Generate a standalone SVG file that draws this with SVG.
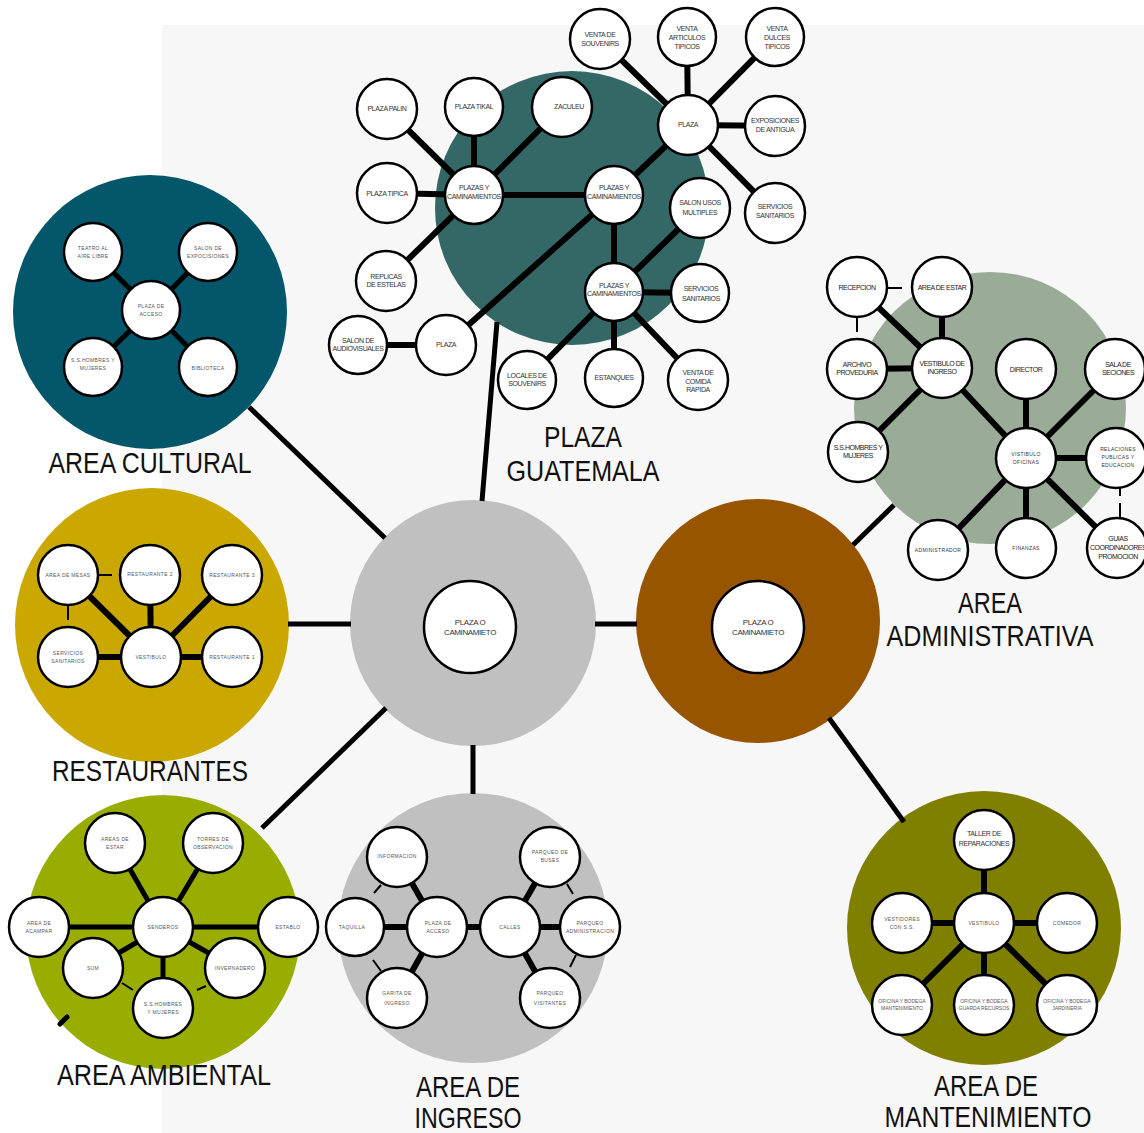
<svg xmlns="http://www.w3.org/2000/svg" width="1144" height="1133" viewBox="0 0 1144 1133">
<style>
.n circle{fill:#fff;stroke:#000;stroke-width:2.5}
.t{font-family:"Liberation Sans",Arial,sans-serif;font-size:7px;fill:#333;text-anchor:middle;letter-spacing:-0.4px}
.s{font-family:"Liberation Sans",Arial,sans-serif;font-size:5px;fill:#555;text-anchor:middle;letter-spacing:0.35px}
.a{font-family:"Liberation Sans",Arial,sans-serif;font-size:7px;fill:#222;text-anchor:middle;letter-spacing:-0.5px}
.ttl{font-family:"Liberation Sans",Arial,sans-serif;font-size:30px;fill:#111;text-anchor:middle}
.c line{stroke:#000;stroke-width:6}
.c .w5{stroke-width:5}
.c .th{stroke-width:2}
.c .rc{stroke-linecap:round}
</style>
<rect width="1144" height="1133" fill="#fff"/>
<rect x="162" y="25" width="982" height="1108" fill="#f7f7f7"/>

<g id="area-circles">
<circle id="area-cultural" cx="150" cy="312" r="137" fill="#04566a"/>
<circle id="plaza-guatemala" cx="572" cy="208" r="137" fill="#346866"/>
<circle id="restaurantes" cx="152" cy="625" r="137" fill="#caa800"/>
<circle id="center-gray" cx="473" cy="623" r="123" fill="#c0c0c0"/>
<circle id="center-brown" cx="758" cy="621" r="122" fill="#985500"/>
<circle id="area-administrativa" cx="990" cy="408" r="136" fill="#9aab98"/>
<circle id="area-ambiental" cx="163" cy="932" r="137" fill="#99ac00"/>
<circle id="area-ingreso" cx="473" cy="928" r="135" fill="#c0c0c0"/>
<circle id="area-mantenimiento" cx="984" cy="928" r="137" fill="#808000"/>
</g>

<g id="titles">
<text class="ttl" x="150" y="473" textLength="203" lengthAdjust="spacingAndGlyphs">AREA CULTURAL</text>
<text class="ttl" x="583" y="447" textLength="78" lengthAdjust="spacingAndGlyphs">PLAZA</text>
<text class="ttl" x="583" y="481" textLength="153" lengthAdjust="spacingAndGlyphs">GUATEMALA</text>
<text class="ttl" x="150" y="781" textLength="196" lengthAdjust="spacingAndGlyphs">RESTAURANTES</text>
<text class="ttl" x="164" y="1085" textLength="214" lengthAdjust="spacingAndGlyphs">AREA AMBIENTAL</text>
<text class="ttl" x="468" y="1097" textLength="104" lengthAdjust="spacingAndGlyphs">AREA DE</text>
<text class="ttl" x="468" y="1128" textLength="107" lengthAdjust="spacingAndGlyphs">INGRESO</text>
<text class="ttl" x="990" y="613" textLength="64" lengthAdjust="spacingAndGlyphs">AREA</text>
<text class="ttl" x="990" y="646" textLength="207" lengthAdjust="spacingAndGlyphs">ADMINISTRATIVA</text>
<text class="ttl" x="986" y="1096" textLength="104" lengthAdjust="spacingAndGlyphs">AREA DE</text>
<text class="ttl" x="988" y="1127" textLength="207" lengthAdjust="spacingAndGlyphs">MANTENIMIENTO</text>
</g>

<g id="connectors" class="c">
<line class="w5" x1="249" y1="407" x2="385" y2="538"/>
<line class="w5" x1="497" y1="322" x2="482" y2="501"/>
<line class="w5" x1="288" y1="624" x2="351" y2="624"/>
<line class="w5" x1="262" y1="828" x2="386" y2="708"/>
<line class="w5 rc" x1="60" y1="1024" x2="67" y2="1017"/>
<line class="w5" x1="473" y1="745" x2="473" y2="794"/>
<line class="w5" x1="595" y1="624" x2="637" y2="624"/>
<line class="w5" x1="853" y1="545" x2="894" y2="505"/>
<line class="w5" x1="829" y1="718" x2="904" y2="822"/>
<line x1="688" y1="125" x2="600" y2="39"/>
<line x1="688" y1="125" x2="687" y2="37"/>
<line x1="688" y1="125" x2="775" y2="37"/>
<line x1="688" y1="125" x2="775" y2="126"/>
<line x1="688" y1="125" x2="775" y2="213"/>
<line x1="688" y1="125" x2="614" y2="195"/>
<line x1="474" y1="195" x2="387" y2="109"/>
<line x1="474" y1="195" x2="474" y2="107"/>
<line x1="474" y1="195" x2="562" y2="107"/>
<line x1="474" y1="195" x2="387" y2="193"/>
<line x1="474" y1="195" x2="386" y2="281"/>
<line x1="474" y1="195" x2="614" y2="195"/>
<line x1="614" y1="195" x2="614" y2="292"/>
<line x1="614" y1="195" x2="446" y2="345"/>
<line x1="614" y1="292" x2="700" y2="208"/>
<line x1="614" y1="292" x2="700" y2="293"/>
<line x1="614" y1="292" x2="527" y2="380"/>
<line x1="614" y1="292" x2="614" y2="378"/>
<line x1="614" y1="292" x2="698" y2="380"/>
<line x1="358" y1="345" x2="446" y2="345"/>
<line class="w5" x1="151" y1="310" x2="93" y2="252"/>
<line class="w5" x1="151" y1="310" x2="208" y2="252"/>
<line class="w5" x1="151" y1="310" x2="93" y2="367"/>
<line class="w5" x1="151" y1="310" x2="208" y2="367"/>
<line x1="151" y1="657" x2="68" y2="575"/>
<line x1="151" y1="657" x2="150" y2="575"/>
<line x1="151" y1="657" x2="232" y2="575"/>
<line x1="151" y1="657" x2="68" y2="657"/>
<line x1="151" y1="657" x2="232" y2="657"/>
<line class="th" x1="98" y1="575" x2="112" y2="575"/>
<line class="th" x1="68" y1="606" x2="68" y2="620"/>
<line class="w5" x1="163" y1="927" x2="115" y2="843"/>
<line class="w5" x1="163" y1="927" x2="213" y2="843"/>
<line class="w5" x1="163" y1="927" x2="39" y2="927"/>
<line class="w5" x1="163" y1="927" x2="288" y2="927"/>
<line class="w5" x1="163" y1="927" x2="93" y2="968"/>
<line class="w5" x1="163" y1="927" x2="235" y2="968"/>
<line class="w5" x1="163" y1="927" x2="163" y2="1008"/>
<line class="th" x1="122" y1="983" x2="133" y2="990"/>
<line class="th" x1="197" y1="990" x2="206" y2="986"/>
<line x1="437" y1="927" x2="397" y2="857"/>
<line x1="437" y1="927" x2="355" y2="927"/>
<line x1="437" y1="927" x2="397" y2="998"/>
<line x1="437" y1="927" x2="510" y2="927"/>
<line x1="510" y1="927" x2="550" y2="857"/>
<line x1="510" y1="927" x2="590" y2="927"/>
<line x1="510" y1="927" x2="550" y2="998"/>
<line class="th" x1="374" y1="893" x2="381" y2="885"/>
<line class="th" x1="373" y1="960" x2="381" y2="971"/>
<line class="th" x1="567" y1="884" x2="573" y2="894"/>
<line class="th" x1="576" y1="955" x2="570" y2="967"/>
<line x1="942" y1="368" x2="857" y2="287"/>
<line x1="942" y1="368" x2="942" y2="287"/>
<line x1="942" y1="368" x2="857" y2="369"/>
<line x1="942" y1="368" x2="858" y2="452"/>
<line x1="942" y1="368" x2="1026" y2="458"/>
<line x1="1026" y1="458" x2="1026" y2="369"/>
<line x1="1026" y1="458" x2="1115" y2="369"/>
<line x1="1026" y1="458" x2="1116" y2="458"/>
<line x1="1026" y1="458" x2="938" y2="550"/>
<line x1="1026" y1="458" x2="1026" y2="548"/>
<line x1="1026" y1="458" x2="1117" y2="548"/>
<line class="th" x1="888" y1="288" x2="902" y2="288"/>
<line class="th" x1="857" y1="318" x2="857" y2="332"/>
<line class="th" x1="1120" y1="488" x2="1120" y2="518" stroke-dasharray="8 7 15"/>
<line x1="984" y1="923" x2="984" y2="840"/>
<line x1="984" y1="923" x2="902" y2="923"/>
<line x1="984" y1="923" x2="1067" y2="923"/>
<line x1="984" y1="923" x2="902" y2="1005"/>
<line x1="984" y1="923" x2="984" y2="1005"/>
<line x1="984" y1="923" x2="1067" y2="1005"/>
</g>

<g id="center-plaza-gray" class="n"><circle cx="470" cy="627" r="46"/><text class="t" x="470" y="625" style="font-size:8px"><tspan x="470">PLAZA O</tspan><tspan x="470" dy="10">CAMINAMIETO</tspan></text></g>
<g id="center-plaza-brown" class="n"><circle cx="758" cy="627" r="46"/><text class="t" x="758" y="625" style="font-size:8px"><tspan x="758">PLAZA O</tspan><tspan x="758" dy="10">CAMINAMIETO</tspan></text></g>

<g id="pg-venta-souvenirs" class="n"><circle cx="600" cy="39" r="30"/><text class="t" x="600" y="37"><tspan x="600">VENTA DE</tspan><tspan x="600" dy="9">SOUVENIRS</tspan></text></g>
<g id="pg-venta-articulos" class="n"><circle cx="687" cy="37" r="29"/><text class="t" x="687" y="31"><tspan x="687">VENTA</tspan><tspan x="687" dy="9">ARTICULOS</tspan><tspan x="687" dy="9">TIPICOS</tspan></text></g>
<g id="pg-venta-dulces" class="n"><circle cx="775" cy="37" r="29"/><text class="t" x="777" y="31"><tspan x="777">VENTA</tspan><tspan x="777" dy="9">DULCES</tspan><tspan x="777" dy="9">TIPICOS</tspan></text></g>
<g id="pg-plaza-top" class="n"><circle cx="688" cy="125" r="30"/><text class="t" x="688" y="127">PLAZA</text></g>
<g id="pg-exposiciones" class="n"><circle cx="775" cy="126" r="30"/><text class="t" x="775" y="123"><tspan x="775">EXPOSICIONES</tspan><tspan x="775" dy="9">DE ANTIGUA</tspan></text></g>
<g id="pg-servicios-1" class="n"><circle cx="775" cy="213" r="30"/><text class="t" x="775" y="209"><tspan x="775">SERVICIOS</tspan><tspan x="775" dy="9">SANITARIOS</tspan></text></g>
<g id="pg-plaza-palin" class="n"><circle cx="387" cy="109" r="30"/><text class="t" x="387" y="111">PLAZA PALIN</text></g>
<g id="pg-plaza-tikal" class="n"><circle cx="474" cy="107" r="29"/><text class="t" x="474" y="109">PLAZA TIKAL</text></g>
<g id="pg-zaculeu" class="n"><circle cx="562" cy="107" r="30"/><text class="t" x="569" y="109">ZACULEU</text></g>
<g id="pg-plaza-tipica" class="n"><circle cx="387" cy="193" r="30"/><text class="t" x="387" y="196">PLAZA TIPICA</text></g>
<g id="pg-plazas-left" class="n"><circle cx="474" cy="195" r="29"/><text class="t" x="474" y="190"><tspan x="474">PLAZAS Y</tspan><tspan x="474" dy="9">CAMINAMIENTOS</tspan></text></g>
<g id="pg-plazas-mid" class="n"><circle cx="614" cy="195" r="29"/><text class="t" x="614" y="190"><tspan x="614">PLAZAS Y</tspan><tspan x="614" dy="9">CAMINAMIENTOS</tspan></text></g>
<g id="pg-salon-usos" class="n"><circle cx="700" cy="208" r="30"/><text class="t" x="700" y="205"><tspan x="700">SALON USOS</tspan><tspan x="700" dy="10">MULTIPLES</tspan></text></g>
<g id="pg-replicas" class="n"><circle cx="386" cy="281" r="30"/><text class="t" x="386" y="279"><tspan x="386">REPLICAS</tspan><tspan x="386" dy="8">DE ESTELAS</tspan></text></g>
<g id="pg-plazas-low" class="n"><circle cx="614" cy="292" r="29"/><text class="t" x="614" y="288"><tspan x="614">PLAZAS Y</tspan><tspan x="614" dy="8">CAMINAMIENTOS</tspan></text></g>
<g id="pg-servicios-2" class="n"><circle cx="700" cy="293" r="29"/><text class="t" x="701" y="291"><tspan x="701">SERVICIOS</tspan><tspan x="701" dy="10">SANITARIOS</tspan></text></g>
<g id="pg-salon-audiovisuales" class="n"><circle cx="358" cy="345" r="29"/><text class="t" x="358" y="343"><tspan x="358">SALON DE</tspan><tspan x="358" dy="8">AUDIOVISUALES</tspan></text></g>
<g id="pg-plaza-bottom" class="n"><circle cx="446" cy="345" r="30"/><text class="t" x="446" y="347">PLAZA</text></g>
<g id="pg-locales" class="n"><circle cx="527" cy="380" r="29"/><text class="t" x="527" y="378"><tspan x="527">LOCALES DE</tspan><tspan x="527" dy="8">SOUVENIRS</tspan></text></g>
<g id="pg-estanques" class="n"><circle cx="614" cy="378" r="29"/><text class="t" x="614" y="380">ESTANQUES</text></g>
<g id="pg-venta-comida" class="n"><circle cx="698" cy="380" r="30"/><text class="t" x="698" y="375"><tspan x="698">VENTA DE</tspan><tspan x="698" dy="9">COMIDA</tspan><tspan x="698" dy="8">RAPIDA</tspan></text></g>

<g id="ac-teatro" class="n"><circle cx="93" cy="252" r="29"/><text class="s" x="93" y="250"><tspan x="93">TEATRO AL</tspan><tspan x="93" dy="8">AIRE LIBRE</tspan></text></g>
<g id="ac-salon" class="n"><circle cx="208" cy="252" r="29"/><text class="s" x="208" y="250"><tspan x="208">SALON DE</tspan><tspan x="208" dy="8">EXPOCISIONES</tspan></text></g>
<g id="ac-plaza" class="n"><circle cx="151" cy="310" r="29"/><text class="s" x="151" y="308"><tspan x="151">PLAZA DE</tspan><tspan x="151" dy="8">ACCESO</tspan></text></g>
<g id="ac-ss" class="n"><circle cx="93" cy="367" r="29"/><text class="s" x="93" y="362"><tspan x="93">S.S.HOMBRES Y</tspan><tspan x="93" dy="8">MUJERES</tspan></text></g>
<g id="ac-biblioteca" class="n"><circle cx="208" cy="367" r="29"/><text class="s" x="208" y="370">BIBLIOTECA</text></g>

<g id="r-mesas" class="n"><circle cx="68" cy="575" r="30"/><text class="s" x="68" y="577">AREA DE MESAS</text></g>
<g id="r-rest2" class="n"><circle cx="150" cy="575" r="30"/><text class="s" x="150" y="576">RESTAURANTE 2</text></g>
<g id="r-rest3" class="n"><circle cx="232" cy="575" r="30"/><text class="s" x="232" y="577">RESTAURANTE 3</text></g>
<g id="r-servicios" class="n"><circle cx="68" cy="657" r="30"/><text class="s" x="68" y="655"><tspan x="68">SERVICIOS</tspan><tspan x="68" dy="8">SANITARIOS</tspan></text></g>
<g id="r-vestibulo" class="n"><circle cx="151" cy="657" r="30"/><text class="s" x="151" y="659">VESTIBULO</text></g>
<g id="r-rest1" class="n"><circle cx="232" cy="657" r="30"/><text class="s" x="232" y="659">RESTAURANTE 1</text></g>

<g id="aa-areas-estar" class="n"><circle cx="115" cy="843" r="30"/><text class="s" x="115" y="841"><tspan x="115">AREAS DE</tspan><tspan x="115" dy="8">ESTAR</tspan></text></g>
<g id="aa-torres" class="n"><circle cx="213" cy="843" r="30"/><text class="s" x="213" y="841"><tspan x="213">TORRES DE</tspan><tspan x="213" dy="8">OBSERVACION</tspan></text></g>
<g id="aa-acampar" class="n"><circle cx="39" cy="927" r="30"/><text class="s" x="39" y="925"><tspan x="39">AREA DE</tspan><tspan x="39" dy="8">ACAMPAR</tspan></text></g>
<g id="aa-senderos" class="n"><circle cx="163" cy="927" r="30"/><text class="s" x="163" y="929">SENDEROS</text></g>
<g id="aa-establo" class="n"><circle cx="288" cy="927" r="30"/><text class="s" x="288" y="929">ESTABLO</text></g>
<g id="aa-sum" class="n"><circle cx="93" cy="968" r="30"/><text class="s" x="93" y="970">SUM</text></g>
<g id="aa-invernadero" class="n"><circle cx="235" cy="968" r="30"/><text class="s" x="235" y="970">INVERNADERO</text></g>
<g id="aa-ss" class="n"><circle cx="163" cy="1008" r="30"/><text class="s" x="163" y="1006"><tspan x="163">S.S.HOMBRES</tspan><tspan x="163" dy="8">Y MUJERES</tspan></text></g>

<g id="ai-informacion" class="n"><circle cx="397" cy="857" r="30"/><text class="s" x="397" y="858">INFORMACION</text></g>
<g id="ai-taquilla" class="n"><circle cx="355" cy="927" r="29"/><text class="s" x="352" y="929">TAQUILLA</text></g>
<g id="ai-plaza" class="n"><circle cx="437" cy="927" r="30"/><text class="s" x="438" y="925"><tspan x="438">PLAZA DE</tspan><tspan x="438" dy="8">ACCESO</tspan></text></g>
<g id="ai-garita" class="n"><circle cx="397" cy="998" r="30"/><text class="s" x="397" y="995"><tspan x="397">GARITA DE</tspan><tspan x="397" dy="10">INGRESO</tspan></text></g>
<g id="ai-calles" class="n"><circle cx="510" cy="927" r="30"/><text class="s" x="510" y="929">CALLES</text></g>
<g id="ai-buses" class="n"><circle cx="550" cy="857" r="30"/><text class="s" x="550" y="854"><tspan x="550">PARQUEO DE</tspan><tspan x="550" dy="8">BUSES</tspan></text></g>
<g id="ai-admin" class="n"><circle cx="590" cy="927" r="30"/><text class="s" x="590" y="925"><tspan x="590">PARQUEO</tspan><tspan x="590" dy="8">ADMINISTRACION</tspan></text></g>
<g id="ai-visitantes" class="n"><circle cx="550" cy="998" r="30"/><text class="s" x="550" y="995"><tspan x="550">PARQUEO</tspan><tspan x="550" dy="10">VISITANTES</tspan></text></g>

<g id="ad-recepcion" class="n"><circle cx="857" cy="287" r="30"/><text class="a" x="857" y="290">RECEPCION</text></g>
<g id="ad-area-estar" class="n"><circle cx="942" cy="287" r="30"/><text class="a" x="942" y="290">AREA DE ESTAR</text></g>
<g id="ad-archivo" class="n"><circle cx="857" cy="369" r="30"/><text class="a" x="857" y="367"><tspan x="857">ARCHIVO</tspan><tspan x="857" dy="8">PROVEDURIA</tspan></text></g>
<g id="ad-vestibulo" class="n"><circle cx="942" cy="368" r="30"/><text class="a" x="942" y="366"><tspan x="942">VESTIBULO DE</tspan><tspan x="942" dy="8">INGRESO</tspan></text></g>
<g id="ad-director" class="n"><circle cx="1026" cy="369" r="30"/><text class="a" x="1026" y="372">DIRECTOR</text></g>
<g id="ad-sala" class="n"><circle cx="1115" cy="369" r="30"/><text class="a" x="1118" y="367"><tspan x="1118">SALA DE</tspan><tspan x="1118" dy="8">SECIONES</tspan></text></g>
<g id="ad-ss" class="n"><circle cx="858" cy="452" r="30"/><text class="a" x="858" y="450"><tspan x="858">S.S.HOMBRES Y</tspan><tspan x="858" dy="8">MUJERES</tspan></text></g>
<g id="ad-vistibulo-oficinas" class="n"><circle cx="1026" cy="458" r="30"/><text class="s" x="1026" y="456" style="fill:#333"><tspan x="1026">VISTIBULO</tspan><tspan x="1026" dy="8">OFICINAS</tspan></text></g>
<g id="ad-relaciones" class="n"><circle cx="1116" cy="458" r="30"/><text class="s" x="1118" y="451" style="fill:#333"><tspan x="1118">RELACIONES</tspan><tspan x="1118" dy="8">PUBLICAS Y</tspan><tspan x="1118" dy="8">EDUCACION</tspan></text></g>
<g id="ad-administrador" class="n"><circle cx="938" cy="550" r="30"/><text class="s" x="938" y="552" style="fill:#333">ADMINISTRADOR</text></g>
<g id="ad-finanzas" class="n"><circle cx="1026" cy="548" r="30"/><text class="s" x="1026" y="550" style="fill:#333">FINANZAS</text></g>
<g id="ad-guias" class="n"><circle cx="1117" cy="548" r="30"/><text class="a" x="1118" y="541"><tspan x="1118">GUIAS</tspan><tspan x="1118" dy="9">COORDINADORES</tspan><tspan x="1118" dy="9">PROMOCION</tspan></text></g>

<g id="am-taller" class="n"><circle cx="984" cy="840" r="30"/><text class="t" x="984" y="836" style="fill:#333"><tspan x="984">TALLER DE</tspan><tspan x="984" dy="10">REPARACIONES</tspan></text></g>
<g id="am-vestidores" class="n"><circle cx="902" cy="923" r="30"/><text class="s" x="902" y="921"><tspan x="902">VESTIDORES</tspan><tspan x="902" dy="8">CON S.S.</tspan></text></g>
<g id="am-vestibulo" class="n"><circle cx="984" cy="923" r="30"/><text class="s" x="984" y="925">VESTIBULO</text></g>
<g id="am-comedor" class="n"><circle cx="1067" cy="923" r="30"/><text class="s" x="1067" y="925">COMEDOR</text></g>
<g id="am-bodega-mant" class="n"><circle cx="902" cy="1005" r="30"/><text class="s" x="902" y="1003" style="letter-spacing:0"><tspan x="902">OFICINA Y BODEGA</tspan><tspan x="902" dy="7">MANTENIMIENTO</tspan></text></g>
<g id="am-bodega-guarda" class="n"><circle cx="984" cy="1005" r="30"/><text class="s" x="984" y="1003" style="letter-spacing:0"><tspan x="984">OFICINA Y BODEGA</tspan><tspan x="984" dy="7">GUARDA RECURSOS</tspan></text></g>
<g id="am-bodega-jard" class="n"><circle cx="1067" cy="1005" r="30"/><text class="s" x="1067" y="1003" style="letter-spacing:0"><tspan x="1067">OFICINA Y BODEGA</tspan><tspan x="1067" dy="7">JARDINERIA</tspan></text></g>
</svg>
